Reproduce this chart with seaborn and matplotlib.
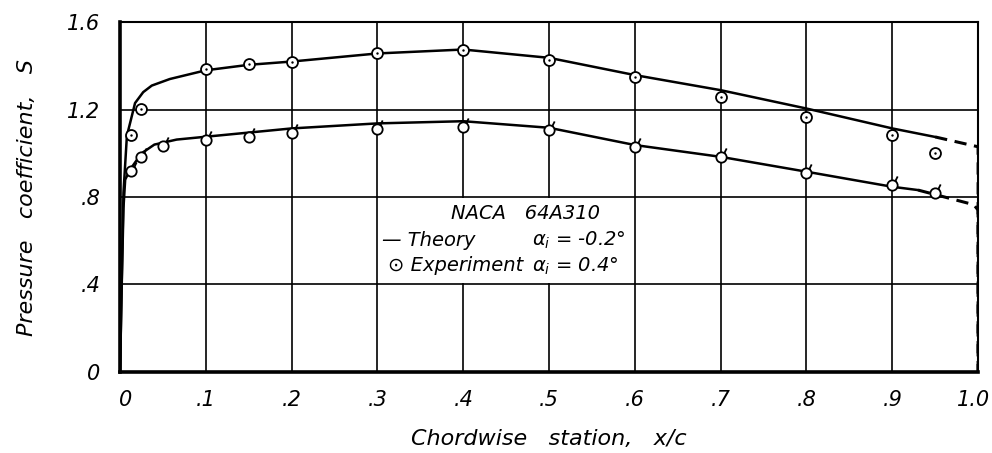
import matplotlib
matplotlib.use("Agg")
import matplotlib.pyplot as plt
import matplotlib.transforms as mtransforms
import seaborn as sns
import pandas as pd
from matplotlib.path import Path
from matplotlib.patches import Rectangle

# Theory curves (solid part)
theory_upper_x = [0, 0.002, 0.004, 0.008, 0.0175, 0.027, 0.037, 0.058, 0.1, 0.15, 0.2, 0.3, 0.4, 0.5, 0.6, 0.7, 0.8, 0.9, 0.95]
theory_upper_s = [0, 0.42, 0.82, 1.08, 1.23, 1.28, 1.31, 1.34, 1.38, 1.405, 1.42, 1.457, 1.475, 1.437, 1.358, 1.289, 1.205, 1.114, 1.075]
theory_lower_x = [0, 0.002, 0.004, 0.006, 0.0125, 0.025, 0.04, 0.066, 0.1, 0.2, 0.3, 0.4, 0.5, 0.6, 0.7, 0.8, 0.9, 0.93]
theory_lower_s = [0, 0.4, 0.75, 0.88, 0.93, 1.0, 1.04, 1.063, 1.076, 1.114, 1.137, 1.147, 1.117, 1.038, 0.984, 0.916, 0.847, 0.832]

# Dashed trailing-edge extrapolation
dash_upper_x = [0.95, 1.0, 1.0]
dash_upper_s = [1.075, 1.03, 0.0]
dash_lower_x = [0.93, 0.995, 1.0, 1.0]
dash_lower_s = [0.832, 0.765, 0.74, 0.0]

# Experiment points
exp_upper_x = [0.0125, 0.025, 0.1, 0.15, 0.2, 0.3, 0.4, 0.5, 0.6, 0.7, 0.8, 0.9, 0.95]
exp_upper_s = [1.083, 1.205, 1.384, 1.407, 1.42, 1.461, 1.475, 1.426, 1.35, 1.256, 1.167, 1.083, 1.0]
exp_lower_x = [0.0125, 0.025, 0.05, 0.1, 0.15, 0.2, 0.3, 0.4, 0.5, 0.6, 0.7, 0.8, 0.9, 0.95]
exp_lower_s = [0.92, 0.984, 1.033, 1.06, 1.073, 1.091, 1.111, 1.121, 1.106, 1.03, 0.981, 0.908, 0.855, 0.817]

x_ticks = [0, 0.1, 0.2, 0.3, 0.4, 0.5, 0.6, 0.7, 0.8, 0.9, 1.0]
x_labels = ["0", ".1", ".2", ".3", ".4", ".5", ".6", ".7", ".8", ".9", "1.0"]
y_ticks = [0, 0.4, 0.8, 1.2, 1.6]
y_labels = ["0", ".4", ".8", "1.2", "1.6"]

sns.set_style("white")
plt.rcParams["font.family"] = ["DejaVu Sans"]
plt.rcParams["font.style"] = "italic"
plt.rcParams["mathtext.fontset"] = "dejavusans"
for key in ["text.color", "axes.labelcolor", "xtick.color", "ytick.color", "axes.edgecolor"]:
    plt.rcParams[key] = "black"

fig = plt.figure(figsize=(9.92, 4.53), dpi=100)
ax = fig.add_axes([0.121, 0.179, 0.865, 0.772])

ln = dict(color="black", linewidth=1.8, estimator=None, sort=False, legend=False, ax=ax)
sns.lineplot(x=theory_upper_x, y=theory_upper_s, zorder=3, **ln)
sns.lineplot(x=theory_lower_x, y=theory_lower_s, zorder=3, **ln)
dl = dict(ln, linewidth=2.2)
sns.lineplot(x=dash_upper_x, y=dash_upper_s, linestyle=(0, (4, 2.5)), zorder=3, **dl)
sns.lineplot(x=dash_lower_x, y=dash_lower_s, linestyle=(0, (4, 2.5)), zorder=3, **dl)

# Upper experiment: dotted circles
sns.scatterplot(x=exp_upper_x, y=exp_upper_s, marker="o", s=62, facecolor="white",
                edgecolor="black", linewidth=1.3, zorder=4, ax=ax, legend=False)
sns.scatterplot(x=exp_upper_x, y=exp_upper_s, marker="o", s=3, color="black",
                linewidth=0, zorder=5, ax=ax, legend=False)

# Lower experiment: flagged circles
flag = Path.make_compound_path(
    Path.unit_circle(),
    Path([(0.55, 0.85), (1.0, 1.75)], [Path.MOVETO, Path.LINETO]),
)
sns.scatterplot(x=exp_lower_x, y=exp_lower_s, marker=flag, s=170, facecolor="white",
                edgecolor="black", linewidth=1.3, zorder=4, ax=ax, legend=False)

ax.set_xlim(0, 1.0)
ax.set_ylim(0, 1.6)
ax.set_xticks(x_ticks)
ax.set_xticklabels(x_labels, fontsize=15)
ax.set_yticks(y_ticks)
ax.set_yticklabels(y_labels, fontsize=15)
ax.tick_params(length=0)
ax.tick_params(axis="y", pad=14)
ax.tick_params(axis="x", pad=13)
ax.grid(True, color="black", linewidth=1.2)
ax.set_axisbelow(True)

# nudge first and last x labels inward like the original lettering
xl = ax.get_xticklabels()
xl[0].set_transform(xl[0].get_transform() + mtransforms.ScaledTranslation(6 / 100, 0, fig.dpi_scale_trans))
xl[-1].set_transform(xl[-1].get_transform() + mtransforms.ScaledTranslation(-5 / 100, 0, fig.dpi_scale_trans))

for side in ["left", "bottom"]:
    ax.spines[side].set_linewidth(2.6)
for side in ["top", "right"]:
    ax.spines[side].set_linewidth(1.5)

ax.set_xlabel("Chordwise   station,   x/c", fontsize=16, labelpad=14)
ax.set_ylabel("Pressure   coefficient,   S", fontsize=16, labelpad=22)

# Key box sitting in one grid cell
ax.add_patch(Rectangle((0.301, 0.405), 0.298, 0.39, facecolor="white",
                       edgecolor="none", zorder=2))
ax.text(0.473, 0.727, "NACA   64A310", fontsize=14, ha="center", va="center", zorder=6)
ax.text(0.305, 0.603, "\u2014 Theory", fontsize=14, ha="left", va="center", zorder=6)
ax.text(0.48, 0.603, r"$\alpha_i$ = -0.2°", fontsize=14, ha="left", va="center", zorder=6)
ax.text(0.312, 0.485, "\u2299 Experiment", fontsize=14, ha="left", va="center", zorder=6)
ax.text(0.48, 0.485, r"$\alpha_i$ = 0.4°", fontsize=14, ha="left", va="center", zorder=6)

fig.savefig("out.png", dpi=100)
